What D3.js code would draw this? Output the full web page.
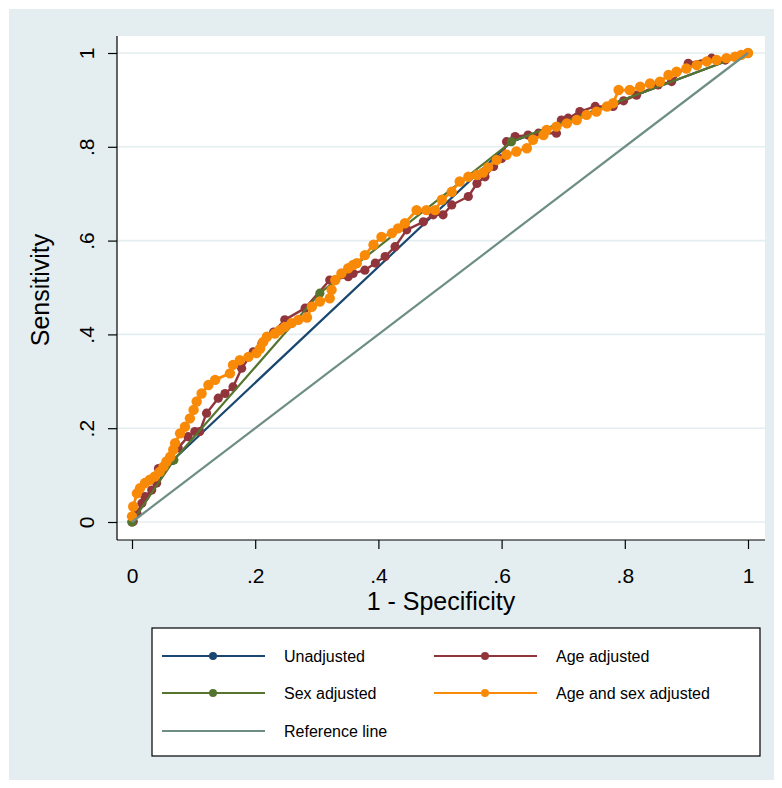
<!DOCTYPE html>
<html>
<head>
<meta charset="utf-8">
<script src="https://cdn.jsdelivr.net/npm/d3@7"></script>
<style>
  html, body { margin: 0; padding: 0; background: #ffffff; }
  svg { display: block; font-family: "Liberation Sans", Arial, Helvetica, sans-serif; }
</style>
</head>
<body>
<svg id="chart" width="782" height="788"></svg>
<script>
// ---- data (1 - specificity, sensitivity) ----
const unadjX = [0, 0.065, 0.615, 1];
const unadjY = [0, 0.13, 0.81, 1];

const sexX = [0, 0.068, 0.305, 0.616, 1];
const sexY = [0, 0.132, 0.488, 0.811, 1];

const ageX = [0, 0.002, 0.008, 0.016, 0.021, 0.032, 0.040, 0.043, 0.054, 0.059, 0.075, 0.091, 0.102, 0.110, 0.121, 0.140, 0.151, 0.164, 0.178, 0.197, 0.211, 0.230, 0.248, 0.281, 0.321, 0.351, 0.359, 0.378, 0.395, 0.411, 0.427, 0.446, 0.473, 0.489, 0.505, 0.519, 0.546, 0.560, 0.573, 0.587, 0.600, 0.608, 0.622, 0.643, 0.660, 0.689, 0.697, 0.708, 0.727, 0.752, 0.781, 0.798, 0.819, 0.854, 0.876, 0.903, 0.941, 0.963, 1];
const ageY = [0, 0.001, 0.018, 0.040, 0.054, 0.068, 0.083, 0.114, 0.122, 0.132, 0.158, 0.182, 0.193, 0.193, 0.232, 0.264, 0.274, 0.288, 0.328, 0.363, 0.381, 0.405, 0.431, 0.456, 0.516, 0.523, 0.530, 0.537, 0.552, 0.566, 0.587, 0.623, 0.640, 0.655, 0.655, 0.676, 0.694, 0.722, 0.736, 0.758, 0.775, 0.811, 0.822, 0.825, 0.829, 0.829, 0.857, 0.861, 0.875, 0.886, 0.886, 0.898, 0.910, 0.932, 0.939, 0.978, 0.989, 0.985, 1];

const bothX = [0, 0.002, 0.008, 0.013, 0.021, 0.029, 0.037, 0.045, 0.051, 0.056, 0.062, 0.067, 0.070, 0.078, 0.086, 0.094, 0.100, 0.105, 0.113, 0.124, 0.135, 0.159, 0.164, 0.175, 0.189, 0.202, 0.208, 0.213, 0.219, 0.232, 0.240, 0.248, 0.259, 0.270, 0.284, 0.292, 0.305, 0.321, 0.324, 0.330, 0.340, 0.351, 0.359, 0.365, 0.378, 0.392, 0.405, 0.422, 0.432, 0.443, 0.462, 0.478, 0.492, 0.503, 0.519, 0.532, 0.546, 0.560, 0.570, 0.578, 0.592, 0.608, 0.624, 0.641, 0.651, 0.668, 0.673, 0.689, 0.706, 0.722, 0.738, 0.754, 0.771, 0.781, 0.790, 0.808, 0.825, 0.841, 0.857, 0.871, 0.884, 0.900, 0.917, 0.933, 0.949, 0.965, 0.979, 0.989, 1];
const bothY = [0.012, 0.033, 0.061, 0.072, 0.083, 0.090, 0.097, 0.107, 0.118, 0.129, 0.139, 0.154, 0.168, 0.189, 0.203, 0.221, 0.239, 0.257, 0.274, 0.292, 0.303, 0.317, 0.335, 0.345, 0.352, 0.360, 0.370, 0.384, 0.395, 0.402, 0.409, 0.416, 0.424, 0.431, 0.436, 0.459, 0.470, 0.477, 0.495, 0.516, 0.530, 0.541, 0.548, 0.552, 0.569, 0.591, 0.608, 0.616, 0.626, 0.637, 0.665, 0.665, 0.665, 0.687, 0.704, 0.726, 0.736, 0.740, 0.745, 0.756, 0.772, 0.783, 0.790, 0.797, 0.815, 0.825, 0.836, 0.843, 0.850, 0.857, 0.868, 0.875, 0.886, 0.893, 0.921, 0.921, 0.928, 0.935, 0.939, 0.953, 0.960, 0.967, 0.974, 0.982, 0.985, 0.989, 0.992, 0.996, 1];

const refX = [0, 1];
const refY = [0, 1];

const tickValues = [0, 0.2, 0.4, 0.6, 0.8, 1];
const tickLabels = ["0", ".2", ".4", ".6", ".8", "1"];

const seriesNames = ["Unadjusted", "Age adjusted", "Sex adjusted", "Age and sex adjusted", "Reference line"];
const seriesColors = ["#1a476f", "#90353b", "#55752f", "#f98a08", "#6e8e84"];

// ---- layout ----
const svg = d3.select("#chart");

svg.append("rect").attr("x", 9).attr("y", 9).attr("width", 765).attr("height", 771).attr("fill", "#e4eef0");

const plot = { left: 117, right: 765, top: 36, bottom: 540 };
svg.append("rect").attr("x", plot.left).attr("y", plot.top)
  .attr("width", plot.right - plot.left).attr("height", plot.bottom - plot.top).attr("fill", "#ffffff");

const x = d3.scaleLinear().domain([0, 1]).range([132, 748]);
const y = d3.scaleLinear().domain([0, 1]).range([522, 53]);

// gridlines
svg.append("g").selectAll("line").data(tickValues).join("line")
  .attr("x1", plot.left).attr("x2", plot.right)
  .attr("y1", d => y(d)).attr("y2", d => y(d))
  .attr("stroke", "#e4eef0").attr("stroke-width", 1.6);

// axes
const xAxis = d3.axisBottom(x).tickValues(tickValues).tickFormat((d, i) => tickLabels[i]).tickSize(9).tickSizeOuter(0);
const gx = svg.append("g").attr("transform", `translate(0,${plot.bottom})`).call(xAxis);
gx.select(".domain").attr("d", `M${plot.left},0H${plot.right}`).attr("stroke", "#000").attr("stroke-width", 1.2);
gx.selectAll(".tick line").attr("stroke", "#000").attr("stroke-width", 1.2);
gx.selectAll(".tick text").attr("font-size", 21).attr("fill", "#000").attr("dy", null).attr("y", 43)
  .attr("font-family", "Liberation Sans, Arial, sans-serif");

const yAxis = d3.axisLeft(y).tickValues(tickValues).tickFormat((d, i) => tickLabels[i]).tickSize(9).tickSizeOuter(0);
const gy = svg.append("g").attr("transform", `translate(${plot.left},0)`).call(yAxis);
gy.select(".domain").attr("d", `M0,${plot.top}V${plot.bottom}`).attr("stroke", "#000").attr("stroke-width", 1.2);
gy.selectAll(".tick line").attr("stroke", "#000").attr("stroke-width", 1.2);
gy.selectAll(".tick text").attr("font-size", 21).attr("fill", "#000")
  .attr("x", null).attr("dy", null).attr("text-anchor", "middle")
  .attr("transform", "translate(-23,0) rotate(-90)")
  .attr("font-family", "Liberation Sans, Arial, sans-serif");

// axis titles
svg.append("text").attr("x", 441).attr("y", 610).attr("text-anchor", "middle")
  .attr("font-size", 25).attr("fill", "#000").text("1 - Specificity");
svg.append("text").attr("transform", "translate(49,290) rotate(-90)").attr("text-anchor", "middle")
  .attr("font-size", 25).attr("fill", "#000").text("Sensitivity");

// series
const line = d3.line().x(d => x(d[0])).y(d => y(d[1]));
const curves = [
  { xs: unadjX, ys: unadjY, c: seriesColors[0], r: 4, lw: 2.2, markers: true },
  { xs: ageX, ys: ageY, c: seriesColors[1], r: 4.6, lw: 2.4, markers: true },
  { xs: sexX, ys: sexY, c: seriesColors[2], r: 4.6, lw: 2.2, markers: true },
  { xs: bothX, ys: bothY, c: seriesColors[3], r: 5.2, lw: 2.8, markers: true },
  { xs: refX, ys: refY, c: seriesColors[4], r: 0, lw: 2.2, markers: false }
];
curves.forEach(s => {
  const pts = s.xs.map((v, i) => [v, s.ys[i]]);
  svg.append("path").datum(pts).attr("d", line).attr("fill", "none")
    .attr("stroke", s.c).attr("stroke-width", s.lw).attr("stroke-linejoin", "round");
  if (s.markers) {
    svg.append("g").selectAll("circle").data(pts).join("circle")
      .attr("cx", d => x(d[0])).attr("cy", d => y(d[1])).attr("r", s.r).attr("fill", s.c);
  }
});

// legend
svg.append("rect").attr("x", 152).attr("y", 628).attr("width", 608).attr("height", 128)
  .attr("fill", "#ffffff").attr("stroke", "#000").attr("stroke-width", 1.2);
const legendPos = [
  { lx: 162, ly: 656 }, { lx: 434, ly: 656 },
  { lx: 162, ly: 693 }, { lx: 434, ly: 693 },
  { lx: 162, ly: 731 }
];
seriesNames.forEach((name, i) => {
  const p = legendPos[i];
  const g = svg.append("g");
  g.append("line").attr("x1", p.lx).attr("x2", p.lx + 103).attr("y1", p.ly).attr("y2", p.ly)
    .attr("stroke", seriesColors[i]).attr("stroke-width", 2.2);
  if (i < 4) {
    g.append("circle").attr("cx", p.lx + 51).attr("cy", p.ly).attr("r", 4).attr("fill", seriesColors[i]);
  }
  g.append("text").attr("x", p.lx + 122).attr("y", p.ly + 6).attr("font-size", 16).attr("fill", "#000").text(name);
});
</script>
</body>
</html>
